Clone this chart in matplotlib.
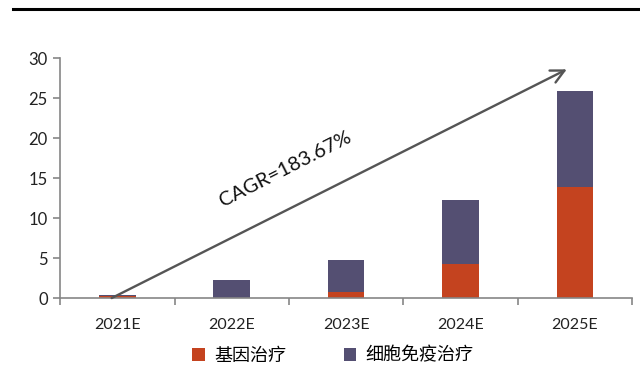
import numpy as np
import matplotlib
matplotlib.use("Agg")
import matplotlib.pyplot as plt
from matplotlib.lines import Line2D

plt.rcParams['font.family'] = ['Lato', 'Noto Sans CJK SC', 'DejaVu Sans']

years = ['2021E', '2022E', '2023E', '2024E', '2025E']
gene = [0.3, 0.05, 0.7, 4.3, 13.9]
cell = [0.1, 2.15, 4.0, 8.0, 12.0]
labels = ['基因治疗', '细胞免疫治疗']
cagr_text = 'CAGR=183.67%'

red = '#C4431F'
purple = '#544F72'
axis_grey = '#868686'

fig = plt.figure(figsize=(6.4, 3.68), dpi=100)
ax = fig.add_axes([0.094, 0.19, 0.8935, 0.652])

x = np.arange(len(years))
b1 = ax.bar(x, gene, width=0.32, color=red, label=labels[0])
b2 = ax.bar(x, cell, width=0.32, bottom=gene, color=purple, label=labels[1])

ax.set_xlim(-0.5, len(years) - 0.5)
ax.set_ylim(0, 30)
ax.set_yticks(range(0, 31, 5))
ax.set_xticks(x)
ax.set_xticklabels(years)
ax.set_xticks(np.arange(-0.5, len(years), 1), minor=True)

for s in ['top', 'right']:
    ax.spines[s].set_visible(False)
for s in ['left', 'bottom']:
    ax.spines[s].set_color(axis_grey)
    ax.spines[s].set_linewidth(1.2)

ax.tick_params(axis='y', length=5, width=1.2, color=axis_grey, labelsize=12, pad=4, labelcolor='#222222')
ax.tick_params(axis='x', which='major', length=0, labelsize=11.5, pad=14, labelcolor='#222222')
ax.tick_params(axis='x', which='minor', length=5, width=1.2, color=axis_grey)

# growth arrow
ax.annotate('', xy=(3.93, 28.6), xytext=(-0.05, 0),
            arrowprops=dict(arrowstyle='->', color='#555555', lw=1.7,
                            mutation_scale=24, shrinkA=0, shrinkB=0))
ax.text(1.47, 16.1, cagr_text, rotation=27, fontsize=14.5, color='#111111',
        ha='center', va='center')

fig.legend(handles=[b1, b2], labels=labels, loc='center', ncol=2,
           bbox_to_anchor=(0.52, 0.035), frameon=False, fontsize=13,
           handlelength=0.7, handleheight=0.7, columnspacing=3.2, handletextpad=0.5)

# top rule from the page
fig.add_artist(Line2D([0.02, 1.0], [0.976, 0.976], color='black', lw=2.2))

fig.savefig('out.png', dpi=100)
